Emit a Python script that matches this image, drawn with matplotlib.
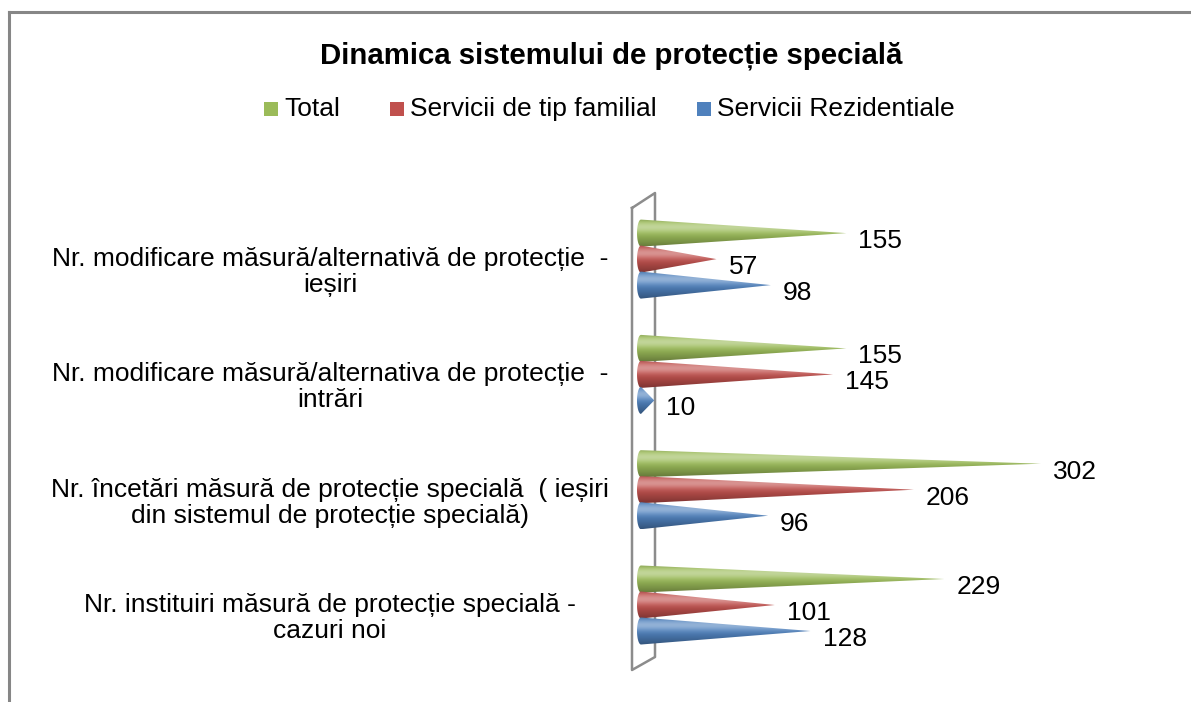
import numpy as np
import matplotlib.pyplot as plt
from matplotlib.path import Path
from matplotlib.patches import PathPatch, Rectangle
from matplotlib.colors import to_rgb
from matplotlib.lines import Line2D

plt.rcParams['font.family'] = ['Liberation Sans', 'DejaVu Sans']

# categories from bottom to top
categories = [
    "Nr. instituiri măsură de protecție specială -\ncazuri noi",
    "Nr. încetări măsură de protecție specială  ( ieșiri\ndin sistemul de protecție specială)",
    "Nr. modificare măsură/alternativa de protecție  -\nintrări",
    "Nr. modificare măsură/alternativă de protecție  -\nieșiri",
]
total = [229, 302, 155, 155]
familial = [101, 206, 145, 57]
rezidential = [128, 96, 10, 98]
series_names = ["Total", "Servicii de tip familial", "Servicii Rezidentiale"]
colors = ["#9BBB59", "#C0504D", "#4F81BD"]

W, H = 1191, 702
PX = 1.3245        # pixels per value unit
X0 = 641           # pixel of value 0
STEP = 115.3       # pixels between categories
Y0 = 605           # pixel of first category centre
bar_h = 26 / STEP


def cone(ax, y, length, color):
    h = bar_h * 1.04
    e = 4 / PX
    t = np.linspace(np.pi / 2, 3 * np.pi / 2, 40)
    xs = np.concatenate([[length], e * np.cos(t), [length]])
    ys = np.concatenate([[y], y + h / 2 * np.sin(t), [y]])
    path = Path(np.column_stack([xs, ys]))
    patch = PathPatch(path, facecolor='none', edgecolor='none')
    ax.add_patch(patch)
    # vertical shading, top row first
    s = np.linspace(0, 1, 60)
    base = np.array(to_rgb(color))
    light = 0.38 * np.exp(-((s - 0.28) / 0.2) ** 2)
    dark = 0.35 * np.clip((s - 0.4) / 0.6, 0, 1) ** 1.3 + 0.12 * np.exp(-(s / 0.08) ** 2)
    rgb = base[None, :] * (1 - dark[:, None])
    rgb = rgb + (1 - rgb) * light[:, None]
    img = np.ones((60, 2, 4))
    img[:, :, :3] = rgb[:, None, :]
    im = ax.imshow(img, extent=[-e, length, y - h / 2, y + h / 2],
                   aspect='auto', origin='upper', interpolation='bilinear', zorder=3)
    im.set_clip_path(patch)


fig = plt.figure(figsize=(W / 100, H / 100), dpi=100)
ax = fig.add_axes([0, 0, 1, 1])
ax.set_xlim(-X0 / PX, (W - X0) / PX)
ax.set_ylim((Y0 - H) / STEP, Y0 / STEP)
ax.axis('off')

# chart frame (top and left edges visible)
fig.add_artist(Line2D([9 / W, 1], [1 - 12 / H, 1 - 12 / H], color='#868686', lw=2.2))
fig.add_artist(Line2D([9 / W, 9 / W], [0, 1 - 12 / H], color='#868686', lw=2.2))

# 3D wall outline, behind the cones
wall = [(632, 208), (655, 193), (655, 657), (632, 670), (632, 208)]
ax.add_line(Line2D([p[0] / W for p in wall], [1 - p[1] / H for p in wall],
                   transform=fig.transFigure, color='#8c8c8c', lw=1.8, zorder=1))

series = [total, familial, rezidential]
offsets = [bar_h, 0, -bar_h]
for vals, off, col in zip(series, offsets, colors):
    for i, v in enumerate(vals):
        y = i + off
        cone(ax, y, v, col)
        ax.annotate(str(v), (v, y), xytext=(12, -8), textcoords='offset pixels',
                    ha='left', va='center', fontsize=19, color='black')

for i, lab in enumerate(categories):
    ax.text(330 / W, i - 13 / STEP, lab, transform=ax.get_yaxis_transform(),
            ha='center', va='center', multialignment='center', fontsize=19,
            linespacing=1.1)

fig.text(611 / W, 1 - 56 / H, "Dinamica sistemului de protecție specială",
         ha='center', va='center', fontsize=21.2, fontweight='bold')

# legend
leg_x = [264, 390, 697]
for x, name, col in zip(leg_x, series_names, colors):
    fig.add_artist(Rectangle((x / W, 1 - 116 / H), 14 / W, 14 / H,
                             facecolor=col, edgecolor='none'))
    fig.text((x + 20) / W, 1 - 109 / H, name, ha='left', va='center', fontsize=19)

fig.savefig('out.png', dpi=100)
